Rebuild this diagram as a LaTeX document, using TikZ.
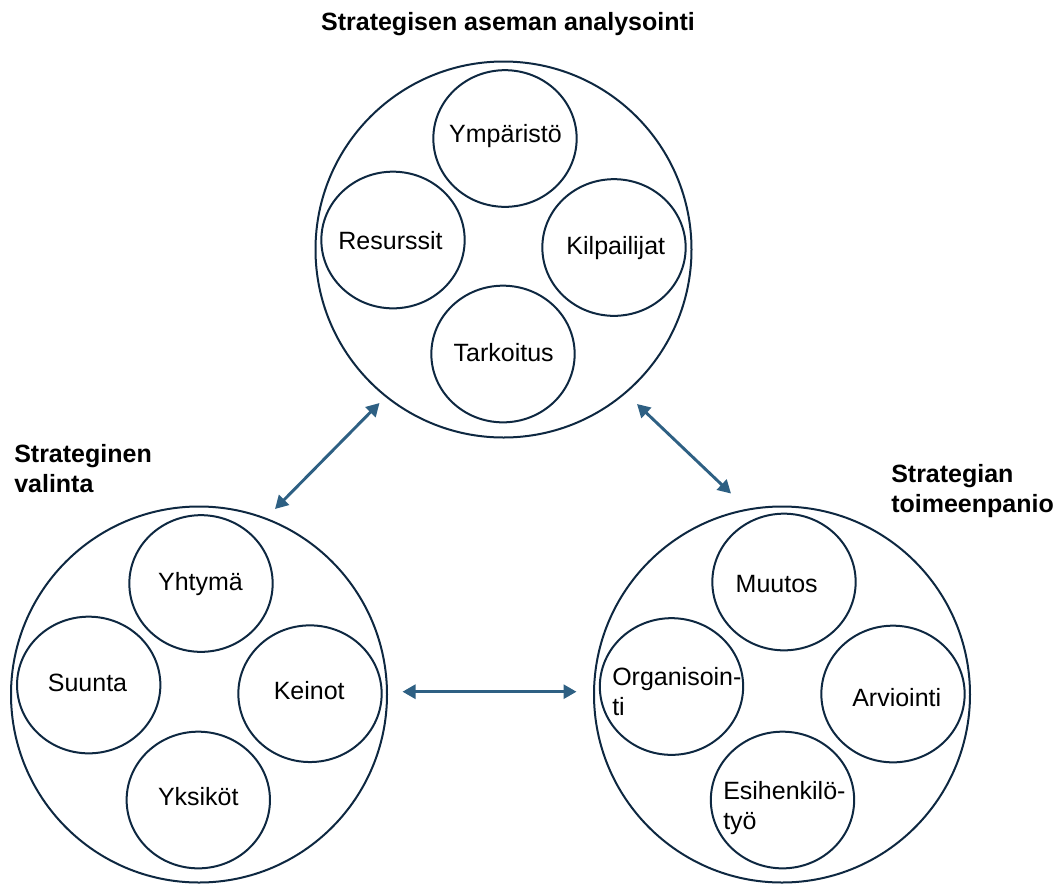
\documentclass[tikz,border=0pt]{standalone}
\usepackage{fontspec}
\setmainfont{Liberation Sans}
\usetikzlibrary{shapes.geometric,arrows.meta}
\definecolor{ringline}{RGB}{14,40,65}
\definecolor{linkblue}{RGB}{46,96,131}
\tikzset{
  ring/.style={circle, draw=ringline, line width=1.5pt, minimum size=282pt, inner sep=0pt},
  cell/.style={ellipse, draw=ringline, line width=1.5pt, minimum width=107.5pt, minimum height=102.5pt, inner sep=0pt},
  lbl/.style={font=\fontsize{18.75}{22.5}\selectfont, inner sep=0pt, text=black},
  head/.style={font=\fontsize{18.75}{22.5}\selectfont\bfseries, inner sep=0pt, align=left, text=black},
  link/.style={draw=linkblue, line width=2.2pt, {Triangle[length=9.75pt,width=10.5pt]}-{Triangle[length=9.75pt,width=10.5pt]}},
}
\begin{document}
\begin{tikzpicture}[x=0.75pt, y=-0.75pt]
\useasboundingbox (0,0) rectangle (1061,883);

% three main rings
\node[ring] (analysis) at (503.5,249.5) {};
\node[ring] (choice)   at (199,694.5) {};
\node[ring] (impl)     at (782,694.5) {};

% analysis parts
\node[cell] (env)  at (505,138.5) {};
\node[cell] (res)  at (393,240)   {};
\node[cell] (comp) at (614,247.5) {};
\node[cell] (purp) at (503,354)   {};
\node[lbl, anchor=base] (envT)  at (505.5,142.7) {Ympäristö};
\node[lbl, anchor=base] (resT)  at (390.5,249.3) {Resurssit};
\node[lbl, anchor=base] (compT) at (615.8,254)   {Kilpailijat};
\node[lbl, anchor=base] (purpT) at (503.7,361.7) {Tarkoitus};

% choice parts
\node[cell] (grp)   at (201,583.5)  {};
\node[cell] (dir)   at (88.7,685)   {};
\node[cell] (means) at (310,693.7)  {};
\node[cell] (units) at (198.3,800)  {};
\node[lbl, anchor=base] (grpT)   at (200.5,590) {Yhtymä};
\node[lbl, anchor=base] (dirT)   at (87.5,691)  {Suunta};
\node[lbl, anchor=base] (meansT) at (309.2,699) {Keinot};
\node[lbl, anchor=base] (unitsT) at (198.3,805) {Yksiköt};

% implementation parts
\node[cell] (chg)  at (784,582)    {};
\node[cell] (org)  at (671.5,686.5) {};
\node[cell] (eval) at (893,694)    {};
\node[cell] (lead) at (782.5,800)  {};
\node[lbl, anchor=base] (chgT)  at (776.7,592.7) {Muutos};
\node[lbl, anchor=base] (evalT) at (896.7,706.7) {Arviointi};
\node[lbl, align=left, anchor=west] (orgT)  at (612,692)   {Organisoin-\\ti};
\node[lbl, align=left, anchor=west] (leadT) at (723,807.7) {Esihenkilö-\\työ};

% headings
\node[head, anchor=base] (hAnalysis) at (508,30) {Strategisen aseman analysointi};
\node[head, anchor=west] (hChoice) at (14,469) {Strateginen\\valinta};
\node[head, anchor=west] (hImpl) at (891,490.7) {Strategian\\toimeenpanio};

% two-way links
\coordinate (l1a) at (275,509);
\coordinate (l1b) at (379.5,403);
\coordinate (l2a) at (637,404);
\coordinate (l2b) at (731,493.5);
\coordinate (l3a) at (402.5,691.7);
\coordinate (l3b) at (576.5,691.7);
\draw[link] (l1a) -- (l1b);
\draw[link] (l2a) -- (l2b);
\draw[link] (l3a) -- (l3b);
\end{tikzpicture}
\end{document}
